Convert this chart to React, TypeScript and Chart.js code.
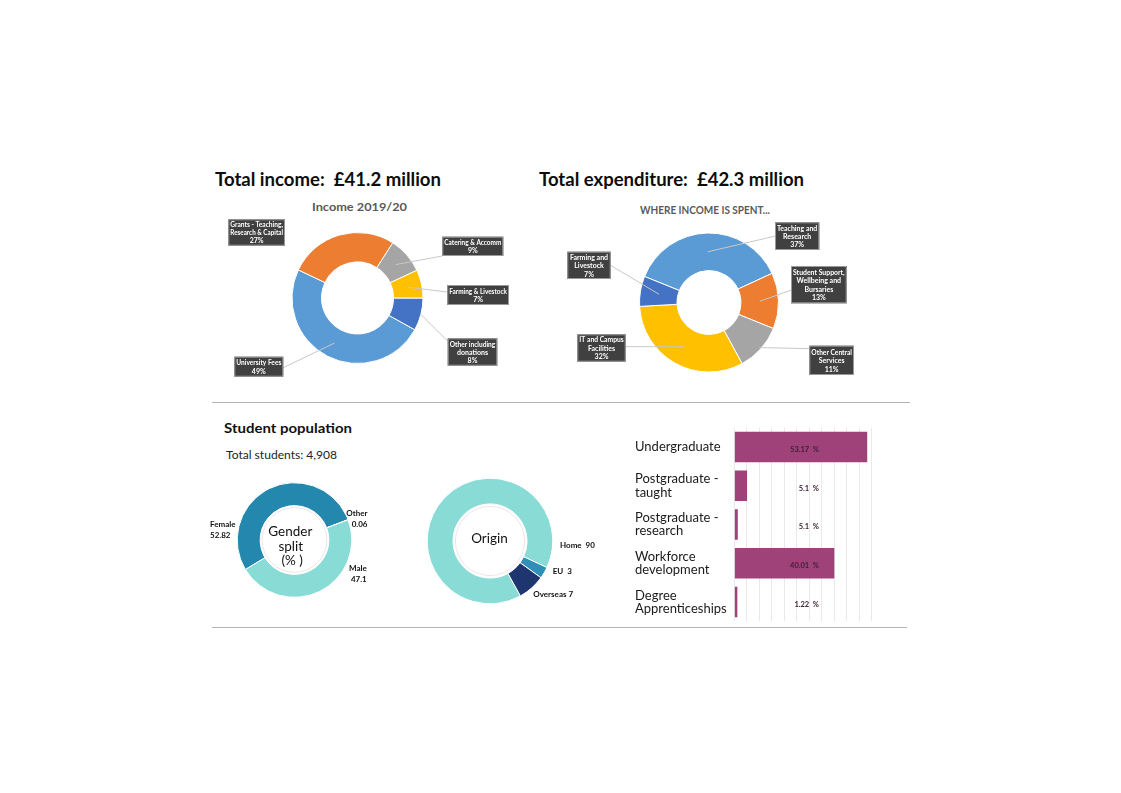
import React, { useEffect, useLayoutEffect, useRef } from 'react';
import { Chart, registerables } from 'chart.js';

Chart.register(...registerables);

const FONT = 'Lato, "DejaVu Sans", sans-serif';

// ---------- Data ----------
const incomeLabels = [
  ['University Fees'],
  ['Grants - Teaching,', 'Research & Capital'],
  ['Catering & Accomm'],
  ['Farming & Livestock'],
  ['Other including', 'donations'],
];
const incomeValues = [49, 27, 9, 7, 8];
const incomeColors = ['#5B9BD5', '#ED7D31', '#A5A5A5', '#FFC000', '#4472C4'];

const expLabels = [
  ['Teaching and', 'Research'],
  ['Student Support,', 'Wellbeing and', 'Bursaries'],
  ['Other Central', 'Services'],
  ['IT and Campus', 'Facilities'],
  ['Farming and', 'Livestock'],
];
const expValues = [37, 13, 11, 32, 7];
const expColors = ['#5B9BD5', '#ED7D31', '#A5A5A5', '#FFC000', '#4472C4'];

const genderLabels = ['Female', 'Other', 'Male'];
const genderValues = [52.82, 0.06, 47.1];
const genderColors = ['#2488AE', '#1F3B73', '#88DCD5'];
const genderCenterText = ['Gender', 'split', '(% )'];

const originLabels = ['Home', 'EU', 'Overseas'];
const originValues = [90, 3, 7];
const originColors = ['#88DCD5', '#2E90B9', '#1F356F'];
const originCenterText = ['Origin'];

const studyLabels = [
  'Undergraduate',
  ['Postgraduate -', 'taught'],
  ['Postgraduate -', 'research'],
  ['Workforce', 'development'],
  ['Degree', 'Apprenticeships'],
];
const studyValues = [53.17, 5.1, 1.4, 40.01, 1.22];
const studyValueText = ['53.17  %', '5.1  %', '5.1  %', '40.01  %', '1.22  %'];

const headings = {
  income: 'Total income:  £41.2 million',
  expenditure: 'Total expenditure:  £42.3 million',
  incomeTitle: 'Income 2019/20',
  expTitle: 'WHERE INCOME IS SPENT...',
  students: 'Student population',
  total: 'Total students: 4,908',
};

// ---------- Plugins ----------
const calloutPlugin = {
  id: 'callouts',
  afterDatasetsDraw(chart: any, _args: any, opts: any) {
    const ctx = chart.ctx as CanvasRenderingContext2D;
    const meta = chart.getDatasetMeta(0);
    const values = chart.data.datasets[0].data;
    ctx.save();
    opts.items.forEach((it: any, i: number) => {
      const p = meta.data[i].getProps(['x', 'y', 'startAngle', 'endAngle', 'innerRadius', 'outerRadius'], true);
      const bx = p.x + it.dx;
      const by = p.y + it.dy;
      if (it.side) {
        const mid = (p.startAngle + p.endAngle) / 2;
        const r = p.innerRadius + it.f * (p.outerRadius - p.innerRadius);
        const tx = p.x + Math.cos(mid) * r;
        const ty = p.y + Math.sin(mid) * r;
        const sx = it.side === 'left' ? bx : bx + it.w;
        const sy = by + it.ay * it.h;
        ctx.strokeStyle = opts.lineColor;
        ctx.lineWidth = 1;
        ctx.beginPath();
        ctx.moveTo(sx, sy);
        ctx.lineTo(tx, ty);
        ctx.stroke();
      }
      ctx.fillStyle = opts.boxColor;
      ctx.fillRect(bx, by, it.w, it.h);
      ctx.strokeStyle = opts.boxBorder;
      ctx.lineWidth = 1;
      ctx.strokeRect(bx + 0.5, by + 0.5, it.w - 1, it.h - 1);
      const lbl = chart.data.labels[i];
      const lines = [...(Array.isArray(lbl) ? lbl : [lbl]), `${values[i]}%`];
      ctx.font = `bold ${opts.fontSize}px ${FONT}`;
      ctx.fillStyle = '#FFFFFF';
      ctx.textAlign = 'center';
      ctx.textBaseline = 'middle';
      const lh = opts.lineHeight;
      const y0 = by + it.h / 2 - ((lines.length - 1) * lh) / 2 + 0.5;
      const cx = bx + it.w / 2;
      const maxW = it.w - 4;
      lines.forEach((ln: string, k: number) => {
        const mw = ctx.measureText(ln).width;
        const s = Math.min(1, maxW / mw);
        ctx.save();
        ctx.translate(cx, y0 + k * lh);
        ctx.scale(s, 1);
        ctx.fillText(ln, 0, 0);
        ctx.restore();
      });
    });
    ctx.restore();
  },
};

const ringLabelPlugin = {
  id: 'ringLabels',
  afterDatasetsDraw(chart: any, _args: any, opts: any) {
    const ctx = chart.ctx as CanvasRenderingContext2D;
    const meta = chart.getDatasetMeta(0);
    const p0 = meta.data[0].getProps(['x', 'y', 'innerRadius'], true);
    const cx = p0.x;
    const cy = p0.y;
    ctx.save();
    ctx.strokeStyle = opts.ringColor;
    ctx.lineWidth = 1;
    ctx.beginPath();
    ctx.arc(cx, cy, p0.innerRadius - opts.ringInset, 0, Math.PI * 2);
    ctx.stroke();

    ctx.font = `${opts.centerSize}px ${FONT}`;
    ctx.fillStyle = '#111111';
    ctx.textAlign = 'center';
    ctx.textBaseline = 'alphabetic';
    opts.centerText.forEach((t: string, k: number) => {
      const c = opts.centerPos[k];
      ctx.fillText(t, cx + c.dx, cy + c.dy);
    });

    ctx.font = `bold ${opts.labelSize}px ${FONT}`;
    const labels = chart.data.labels;
    const values = chart.data.datasets[0].data;
    opts.items.forEach((it: any, i: number) => {
      ctx.textAlign = it.align;
      const lines = it.sep === undefined ? [labels[i], String(values[i])] : [`${labels[i]}${it.sep}${values[i]}`];
      lines.forEach((ln: string, k: number) => {
        ctx.fillText(ln, cx + it.dx, cy + it.dy + k * opts.labelLine);
      });
    });
    ctx.restore();
  },
};

const barTextPlugin = {
  id: 'barText',
  afterDatasetsDraw(chart: any, _args: any, opts: any) {
    const ctx = chart.ctx as CanvasRenderingContext2D;
    const meta = chart.getDatasetMeta(0);
    const a = chart.chartArea;
    ctx.save();
    ctx.font = `bold ${opts.size}px ${FONT}`;
    ctx.fillStyle = opts.color;
    ctx.textAlign = 'right';
    ctx.textBaseline = 'middle';
    const x = a.left + opts.pos * (a.right - a.left);
    meta.data.forEach((bar: any, i: number) => {
      ctx.fillText(opts.texts[i], x, bar.y + opts.dy);
    });
    ctx.restore();
  },
};

// ---------- Config builders ----------
function donutConfig(labels: any[], values: number[], colors: string[], rotation: number, radius: number, cutout: string, pluginOpts: any, plugin: any) {
  return {
    type: 'doughnut',
    data: {
      labels,
      datasets: [{ data: values, backgroundColor: colors, borderColor: '#FFFFFF', borderWidth: 1 }],
    },
    options: {
      responsive: false,
      animation: false,
      events: [],
      rotation,
      radius,
      cutout,
      plugins: { legend: { display: false }, tooltip: { enabled: false }, ...pluginOpts },
    },
    plugins: [plugin],
  };
}

const incomeConfig = () =>
  donutConfig(incomeLabels, incomeValues, incomeColors, 119, 65.5, '55%', {
    callouts: {
      boxColor: '#404040', boxBorder: '#9A9A9A', lineColor: '#C8C8C8', fontSize: 7, lineHeight: 8.2,
      items: [
        { dx: -123.2, dy: 58.7, w: 49, h: 20, side: 'right', ay: 0.55, f: 0.5 },
        { dx: -129.2, dy: -78.7, w: 56.7, h: 26.4 },
        { dx: 84.8, dy: -61.3, w: 61, h: 19.3, side: 'left', ay: 1, f: 0.5 },
        { dx: 89.8, dy: -13, w: 61.7, h: 20, side: 'left', ay: 0.35, f: 0.5 },
        { dx: 90.2, dy: 40.3, w: 49.6, h: 27.4, side: 'left', ay: 0.1, f: 1 },
      ],
    },
  }, calloutPlugin);

const expConfig = () =>
  donutConfig(expLabels, expValues, expColors, -68, 69.5, '46%', {
    callouts: {
      boxColor: '#404040', boxBorder: '#9A9A9A', lineColor: '#C8C8C8', fontSize: 7, lineHeight: 8.4,
      items: [
        { dx: 66, dy: -80.2, w: 44.3, h: 27.7, side: 'left', ay: 0.5, f: 0.5 },
        { dx: 82, dy: -36.5, w: 55.7, h: 37.3, side: 'left', ay: 0.65, f: 0.5 },
        { dx: 100.3, dy: 43.2, w: 44.7, h: 29.3, side: 'left', ay: 0.1, f: 0.95 },
        { dx: -131.7, dy: 31.8, w: 48.4, h: 27.4, side: 'right', ay: 0.45, f: 0.5 },
        { dx: -141.7, dy: -50.8, w: 43.4, h: 27.3, side: 'right', ay: 0.5, f: 0.5 },
      ],
    },
  }, calloutPlugin);

const genderConfig = () =>
  donutConfig(genderLabels, genderValues, genderColors, -121, 57.3, '60%', {
    ringLabels: {
      ringColor: '#EEE4E9', ringInset: 2, centerSize: 13.5, labelSize: 8, labelLine: 11.3,
      centerText: genderCenterText,
      centerPos: [{ dx: -4.2, dy: -4 }, { dx: -3.7, dy: 10.5 }, { dx: -2.3, dy: 25 }],
      items: [
        { align: 'left', dx: -84.5, dy: -13.3 },
        { align: 'right', dx: 73, dy: -24 },
        { align: 'right', dx: 72.2, dy: 31 },
      ],
    },
  }, ringLabelPlugin);

const originConfig = () =>
  donutConfig(originLabels, originValues, originColors, 151, 62.8, '59%', {
    ringLabels: {
      ringColor: '#EEE4E9', ringInset: 2.5, centerSize: 13.5, labelSize: 8, labelLine: 11,
      centerText: originCenterText,
      centerPos: [{ dx: -0.5, dy: 2 }],
      items: [
        { align: 'left', dx: 70, dy: 7.3, sep: '  ' },
        { align: 'left', dx: 62.7, dy: 33.3, sep: '  ' },
        { align: 'left', dx: 43.3, dy: 55.7, sep: ' ' },
      ],
    },
  }, ringLabelPlugin);

const barConfig = () => ({
  type: 'bar',
  data: {
    labels: studyLabels,
    datasets: [{
      data: studyValues,
      backgroundColor: '#A0427A',
      borderWidth: 0,
      barPercentage: 0.79,
      categoryPercentage: 1,
    }],
  },
  options: {
    indexAxis: 'y',
    responsive: false,
    animation: false,
    events: [],
    layout: { padding: { left: 5, top: 7.6, right: 18.2, bottom: 8.6 } },
    plugins: {
      legend: { display: false },
      tooltip: { enabled: false },
      barText: { texts: studyValueText, pos: 0.616, dy: 2.5, size: 7.5, color: '#3C2236' },
    },
    scales: {
      x: {
        min: 0,
        max: 55,
        ticks: { display: false, stepSize: 5 },
        grid: { color: '#E9E9E9', drawTicks: false, lineWidth: 1 },
        border: { display: false },
        afterFit: (s: any) => { s.height = 0; s.paddingLeft = 0; s.paddingRight = 0; },
      },
      y: {
        ticks: { crossAlign: 'far', color: '#1A1A1A', padding: 0, font: { family: FONT, size: 13, lineHeight: 1.03 } },
        grid: { display: false },
        border: { display: false },
        afterFit: (s: any) => { s.width = 99.3; s.paddingTop = 0; s.paddingBottom = 0; },
      },
    },
  },
  plugins: [barTextPlugin],
});

// ---------- Components ----------
function ChartCanvas({ left, top, width, height, config }: any) {
  const ref = useRef<HTMLCanvasElement>(null);
  useEffect(() => {
    const chart = new Chart(ref.current as HTMLCanvasElement, config() as any);
    let alive = true;
    (document as any).fonts?.ready?.then(() => { if (alive) chart.update(); });
    return () => { alive = false; chart.destroy(); };
  }, []);
  return (
    <canvas
      ref={ref}
      width={width}
      height={height}
      style={{ position: 'absolute', left, top, width, height }}
    />
  );
}

function FitText({ text, x, baseline, width, size, weight = 400, color = '#000' }: any) {
  const ref = useRef<HTMLDivElement>(null);
  const probe = useRef<HTMLSpanElement>(null);
  useLayoutEffect(() => {
    const fit = () => {
      const el = ref.current;
      const pr = probe.current;
      if (!el || !pr) return;
      el.style.transform = 'none';
      const w = el.getBoundingClientRect().width;
      const b = pr.offsetTop;
      el.style.top = `${baseline - b}px`;
      el.style.transform = `scaleX(${width / w})`;
    };
    fit();
    (document as any).fonts?.ready?.then(fit);
  }, []);
  return (
    <div
      ref={ref}
      style={{
        position: 'absolute', left: x, top: 0, whiteSpace: 'pre', fontFamily: FONT,
        fontSize: size, fontWeight: weight, color, lineHeight: 'normal', transformOrigin: '0 0',
      }}
    >
      {text}
      <span ref={probe} style={{ display: 'inline-block', width: 0, height: 0, verticalAlign: 'baseline' }} />
    </div>
  );
}

export default function App() {
  return (
    <div style={{ position: 'absolute', left: 0, top: 0, width: 1121, height: 793, background: '#FFFFFF', overflow: 'hidden', fontFamily: FONT }}>
      <FitText text={headings.income} x={215} baseline={186.3} width={226} size={19} weight={700} color="#0D0D0D" />
      <FitText text={headings.expenditure} x={539.3} baseline={186.3} width={265} size={19} weight={700} color="#0D0D0D" />
      <FitText text={headings.incomeTitle} x={312.3} baseline={210.7} width={95} size={11} weight={700} color="#595959" />
      <FitText text={headings.expTitle} x={640} baseline={214.3} width={130} size={10.6} weight={700} color="#595959" />

      <ChartCanvas left={197} top={213} width={321} height={170} config={incomeConfig} />
      <ChartCanvas left={559} top={218} width={300} height={169} config={expConfig} />

      <div style={{ position: 'absolute', left: 212, top: 402, width: 698, height: 1, background: '#B4B4B4' }} />

      <FitText text={headings.students} x={224} baseline={433.3} width={128} size={14} weight={700} color="#111111" />
      <FitText text={headings.total} x={226} baseline={459.3} width={111} size={12} weight={400} color="#222222" />

      <ChartCanvas left={200} top={470} width={189} height={140} config={genderConfig} />
      <ChartCanvas left={375} top={471} width={230} height={140} config={originConfig} />
      <ChartCanvas left={630} top={420} width={260} height={210} config={barConfig} />

      <div style={{ position: 'absolute', left: 212, top: 627, width: 695, height: 1, background: '#B4B4B4' }} />
    </div>
  );
}
